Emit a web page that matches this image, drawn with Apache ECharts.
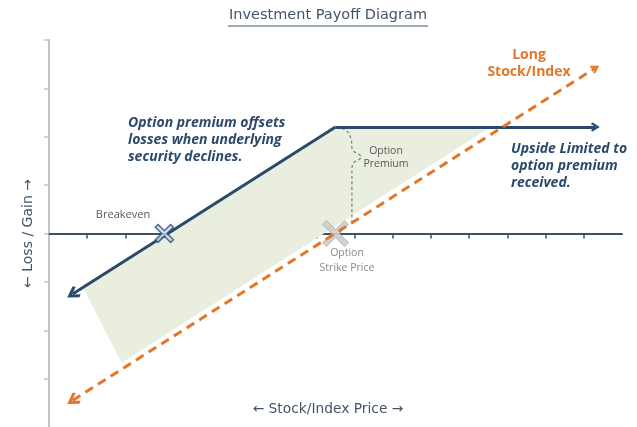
<!DOCTYPE html>
<html>
<head>
<meta charset="utf-8">
<script src="https://cdn.jsdelivr.net/npm/echarts@6/dist/echarts.min.js"></script>
<style>
  html, body { margin: 0; padding: 0; background: #fff; }
  #chart { width: 637px; height: 427px; }
</style>
</head>
<body>
<div id="chart"></div>
<script>
  // payoff lines, in axis units (x = price steps, y = loss/gain steps)
  var stockX = [0.62, 14.3]
  var stockY = [-3.45, 3.42]
  var callX = [0.62, 7.5, 14.3]
  var callY = [-1.25, 2.2, 2.2]
  var breakevenX = 3.02
  var strikeX = 7.5
  // shaded area between the two payoffs
  var fillX = [0.9, 7.5, 11.56, 1.9]
  var fillY = [-1.13, 2.2, 2.2, -2.67]
  // dashed brace marking the premium
  var braceX = [7.52, 7.78, 7.91, 7.94, 8.17, 7.94, 7.93, 7.93]
  var braceY = [2.19, 2.13, 1.95, 1.74, 1.58, 1.42, 1.2, 0.22]
  var xTicks = [1, 2, 3, 4, 5, 6, 7, 8, 9, 10, 11, 12, 13, 14]
  var yTicks = [-3, -2, -1, 0, 1, 2, 3, 4]

  var blue = '#2b4a6b'
  var orange = '#e2762a'
  var slate = '#44546a'
  var font = '"Open Sans"'
  var axisFont = '"DejaVu Sans"'
  var chevron = 'path://M0,10 L10,0 L20,10 L17,12.5 L10,5.5 L3,12.5 Z'
  var cross = 'path://M3,0 L10,7 L17,0 L20,3 L13,10 L20,17 L17,20 L10,13 L3,20 L0,17 L7,10 L0,3 Z'

  function pairs (xs, ys) {
    return xs.map(function (x, i) { return [x, ys[i]] })
  }

  var myChart = echarts.init(document.getElementById('chart'))
  myChart.setOption({
    animation: false,
    grid: { left: 49, top: 40, width: 573, height: 389.6 },
    xAxis: {
      type: 'value', min: 0, max: 15,
      axisLine: { onZero: true, lineStyle: { color: '#3b5168', width: 2 } },
      axisTick: { show: true, length: 5, customValues: xTicks, lineStyle: { color: '#3b5168', width: 1.5 } },
      axisLabel: { show: false },
      splitLine: { show: false }
    },
    yAxis: {
      type: 'value', min: -4, max: 4,
      name: '← Loss / Gain →',
      nameLocation: 'middle', nameGap: 14, nameRotate: 90,
      nameTextStyle: { color: slate, fontSize: 14, fontFamily: 'DejaVu Sans' },
      axisLine: { show: true, lineStyle: { color: '#c4c4c4', width: 2 } },
      axisTick: { show: true, length: 5, customValues: yTicks, lineStyle: { color: '#c4c4c4', width: 1.5 } },
      axisLabel: { show: false },
      splitLine: { show: false }
    },
    graphic: [
      { type: 'text', z: 20, x: 328, y: 8, style: { text: 'Investment Payoff Diagram', fill: slate, font: '14.5px ' + axisFont, align: 'center' } },
      { type: 'line', z: 20, shape: { x1: 228, y1: 26, x2: 428, y2: 26 }, style: { stroke: slate, lineWidth: 1 } },
      { type: 'text', z: 20, left: 128, top: 115, style: { text: 'Option premium offsets\nlosses when underlying\nsecurity declines.', fill: blue, font: 'italic bold 14px ' + font, lineHeight: 17 } },
      { type: 'text', z: 20, left: 511, top: 141, style: { text: 'Upside Limited to\noption premium\nreceived.', fill: blue, font: 'italic bold 14px ' + font, lineHeight: 17 } },
      { type: 'text', z: 20, x: 529, y: 47, style: { text: 'Long\nStock/Index', fill: orange, font: 'bold 14px ' + font, lineHeight: 17, align: 'center' } },
      { type: 'text', z: 20, x: 123, y: 209, style: { text: 'Breakeven', fill: '#595959', font: '11px ' + font, align: 'center' } },
      { type: 'text', z: 20, x: 386, y: 145, style: { text: 'Option\nPremium', fill: '#595959', font: '10.5px ' + font, lineHeight: 13, align: 'center' } },
      { type: 'text', z: 20, x: 347, y: 246, style: { text: 'Option\nStrike Price', fill: '#8a8a8a', font: '10.5px ' + font, lineHeight: 15, align: 'center' } },
      { type: 'text', z: 20, x: 328, y: 402, style: { text: '← Stock/Index Price →', fill: slate, font: '13.8px ' + axisFont, align: 'center' } }
    ],
    series: [
      {
        type: 'custom', z: 1, silent: true,
        data: [[0, 0]],
        renderItem: function (params, api) {
          var pts = pairs(fillX, fillY).map(function (p) { return api.coord(p) })
          return { type: 'polygon', shape: { points: pts }, style: { fill: '#e9eedf' } }
        }
      },
      {
        type: 'line', z: 3, smooth: 0.4, symbol: 'none', silent: true,
        data: pairs(braceX, braceY),
        lineStyle: { color: '#6f7f8c', width: 1.2, type: [3, 2.5] }
      },
      {
        type: 'scatter', z: 3, silent: true, symbol: cross, symbolSize: 26,
        data: [[strikeX, 0]],
        itemStyle: { color: '#cdcdcd', borderColor: '#b3b3b3', borderWidth: 1, opacity: 0.9 }
      },
      {
        type: 'lines', coordinateSystem: 'cartesian2d', z: 4, silent: true,
        symbol: [chevron, 'none'], symbolSize: [13, 9],
        lineStyle: { color: blue, width: 3, opacity: 1 },
        data: [{ coords: [[callX[0], callY[0]], [callX[1], callY[1]]] }]
      },
      {
        type: 'lines', coordinateSystem: 'cartesian2d', z: 4, silent: true,
        symbol: ['none', chevron], symbolSize: [13, 9],
        lineStyle: { color: blue, width: 3, opacity: 1 },
        data: [{ coords: [[callX[1], callY[1]], [callX[2], callY[2]]] }]
      },
      {
        type: 'lines', coordinateSystem: 'cartesian2d', z: 5, silent: true,
        symbol: [chevron, chevron], symbolSize: [13, 9],
        lineStyle: { color: orange, width: 3, opacity: 1, type: [9, 6] },
        data: [{ coords: [[stockX[0], stockY[0]], [stockX[1], stockY[1]]] }]
      },
      {
        type: 'scatter', z: 6, silent: true, symbol: cross, symbolSize: 18,
        data: [[breakevenX, 0]],
        itemStyle: { color: '#c6d9f0', borderColor: blue, borderWidth: 1.5 }
      }
    ]
  })
</script>
</body>
</html>
